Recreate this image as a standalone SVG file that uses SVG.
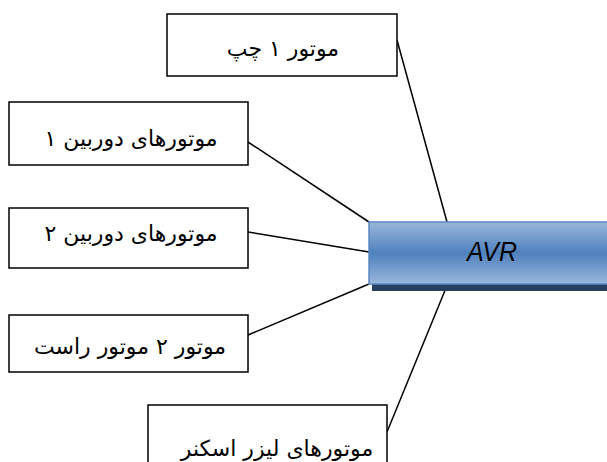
<svg xmlns="http://www.w3.org/2000/svg" width="607" height="462" viewBox="0 0 607 462">
<style>
.box{fill:#fff;stroke:#000;stroke-width:1.5}
.lbl{font-family:"DejaVu Sans","Noto Sans",sans-serif;font-size:22px;fill:#000;text-anchor:middle;direction:rtl;unicode-bidi:embed}
.ln{stroke:#000;stroke-width:1.5;fill:none}
</style>
<defs>
<linearGradient id="g" x1="0" y1="0" x2="0" y2="1">
<stop offset="0" stop-color="#9bb7dc"/>
<stop offset="0.5" stop-color="#4f81bd"/>
<stop offset="1" stop-color="#9bb7dc"/>
</linearGradient>
</defs>
<g id="connectors">
<line class="ln" x1="397" y1="40" x2="447" y2="222"/>
<line class="ln" x1="248" y1="142" x2="369" y2="222"/>
<line class="ln" x1="248" y1="232" x2="369" y2="252"/>
<line class="ln" x1="248" y1="335" x2="369" y2="284"/>
<line class="ln" x1="387" y1="432" x2="446" y2="288"/>
</g>
<g id="avr">
<rect x="372" y="283" width="240" height="8" fill="#254061"/>
<rect x="369" y="222" width="245" height="62" fill="url(#g)" stroke="#5a88c4" stroke-width="1.5"/>
<text x="492" y="261" font-family="'Liberation Sans',Arial,sans-serif" font-style="italic" font-size="28" text-anchor="middle" textLength="50" lengthAdjust="spacingAndGlyphs" fill="#000">AVR</text>
</g>
<g id="n1">
<rect class="box" x="167" y="14" width="230" height="62"/>
<text class="lbl" x="283" y="56">موتور ۱ چپ</text>
</g>
<g id="n2">
<rect class="box" x="9" y="102" width="239" height="63"/>
<text class="lbl" x="131" y="146">موتورهای دوربین ۱</text>
</g>
<g id="n3">
<rect class="box" x="9" y="208" width="239" height="60"/>
<text class="lbl" x="131" y="241">موتورهای دوربین ۲</text>
</g>
<g id="n4">
<rect class="box" x="9" y="315" width="239" height="57"/>
<text class="lbl" x="130" y="354">موتور ۲ موتور راست</text>
</g>
<g id="n5">
<rect class="box" x="148" y="405" width="239" height="70"/>
<text class="lbl" x="277" y="456">موتورهای لیزر اسکنر</text>
</g>
</svg>
